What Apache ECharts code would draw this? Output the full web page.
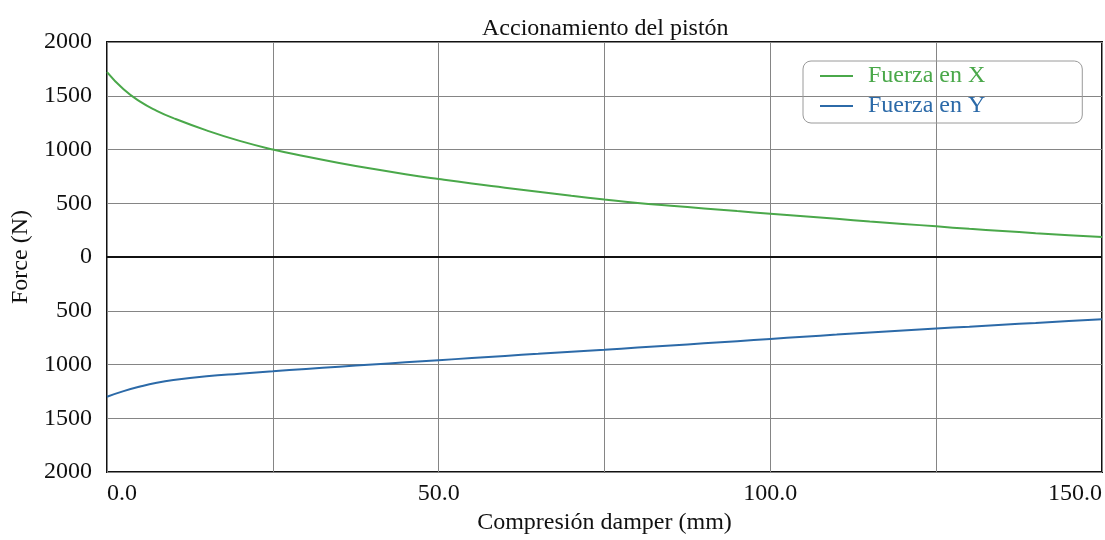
<!DOCTYPE html>
<html>
<head>
<meta charset="utf-8">
<script src="https://cdn.jsdelivr.net/npm/echarts@6/dist/echarts.min.js"></script>
<style>
  html, body { margin: 0; padding: 0; background: #fff; }
  #chart { width: 1105px; height: 540px; }
</style>
</head>
<body>
<div id="chart"></div>
<script>
// Piston actuation: force components versus damper compression
const compresion = [0, 2.5, 5, 7.5, 10, 15, 20, 25, 30, 35, 40, 45, 50, 55, 60, 65, 70, 75, 80, 85, 90, 95, 100, 105, 110, 115, 120, 125, 130, 135, 140, 145, 150];
const fuerzaX = [1720, 1560, 1445, 1360, 1292, 1178, 1080, 1000, 935, 875, 820, 770, 725, 683, 645, 607, 570, 535, 503, 477, 452, 427, 403, 379, 355, 331, 308, 285, 262, 242, 222, 203, 185];
const fuerzaY = [-1300, -1248, -1205, -1170, -1145, -1110, -1085, -1063, -1041, -1020, -1000, -980, -960, -940, -920, -901, -882, -863, -843, -823, -803, -783, -762, -742, -722, -702, -683, -665, -648, -630, -613, -595, -578];
const xTickLabels = [0, 50, 100, 150];

const FONT = '"Liberation Serif", "DejaVu Serif", serif';
const GREEN = '#4aa84a';
const BLUE = '#2c6aa8';

const pairs = (xs, ys) => xs.map((x, i) => [x, ys[i]]);

const chart = echarts.init(document.getElementById('chart'));
chart.setOption({
  backgroundColor: '#fff',
  animation: false,
  title: {
    text: 'Accionamiento del pistón',
    left: 477,
    top: 12,
    textStyle: { fontFamily: FONT, fontSize: 24, fontWeight: 'normal', color: '#111' }
  },
  legend: {
    orient: 'vertical',
    left: 803,
    top: 61,
    padding: [3, 97, 5, 17],
    itemGap: 6,
    itemWidth: 33,
    itemHeight: 2,
    icon: 'rect',
    borderColor: '#9a9a9a',
    borderWidth: 1,
    borderRadius: 8,
    backgroundColor: 'transparent',
    textStyle: { fontFamily: FONT, fontSize: 24, padding: [0, 0, 0, 10] },
    data: [
      { name: 'Fuerza en X', textStyle: { color: GREEN } },
      { name: 'Fuerza en Y', textStyle: { color: BLUE } }
    ]
  },
  grid: {
    left: 107, right: 2, top: 42, bottom: 64,
    show: true,
    borderColor: '#111',
    borderWidth: 2,
    backgroundColor: 'transparent'
  },
  xAxis: {
    type: 'value',
    min: 0, max: 150, interval: 25,
    name: 'Compresión damper (mm)',
    nameLocation: 'middle',
    nameGap: 39,
    nameTextStyle: { fontFamily: FONT, fontSize: 24, color: '#111' },
    axisLine: { show: false },
    axisTick: { show: false },
    axisLabel: {
      fontFamily: FONT, fontSize: 24, color: '#111', margin: 10,
      alignMinLabel: 'left', alignMaxLabel: 'right',
      formatter: v => xTickLabels.includes(v) ? v.toFixed(1) : ''
    },
    splitLine: { show: true, lineStyle: { color: '#858585', width: 1 } }
  },
  yAxis: {
    type: 'value',
    min: -2000, max: 2000, interval: 500,
    name: 'Force (N)',
    nameLocation: 'middle',
    nameGap: 65,
    nameTextStyle: { fontFamily: FONT, fontSize: 24, color: '#111' },
    axisLine: { show: false },
    axisTick: { show: false },
    axisLabel: {
      fontFamily: FONT, fontSize: 24, color: '#111', margin: 15,
      formatter: v => String(Math.abs(v))
    },
    splitLine: { show: true, lineStyle: { color: '#858585', width: 1 } }
  },
  series: [
    {
      name: 'Fuerza en X',
      type: 'line',
      smooth: 0.5,
      symbol: 'none',
      color: GREEN,
      lineStyle: { width: 2, color: GREEN },
      data: pairs(compresion, fuerzaX),
      markLine: {
        silent: true,
        symbol: 'none',
        label: { show: false },
        lineStyle: { color: '#111', width: 2, type: 'solid' },
        data: [{ yAxis: 0 }]
      },
      z: 3
    },
    {
      name: 'Fuerza en Y',
      type: 'line',
      smooth: 0.5,
      symbol: 'none',
      color: BLUE,
      lineStyle: { width: 2, color: BLUE },
      data: pairs(compresion, fuerzaY),
      z: 3
    }
  ]
});
</script>
</body>
</html>
